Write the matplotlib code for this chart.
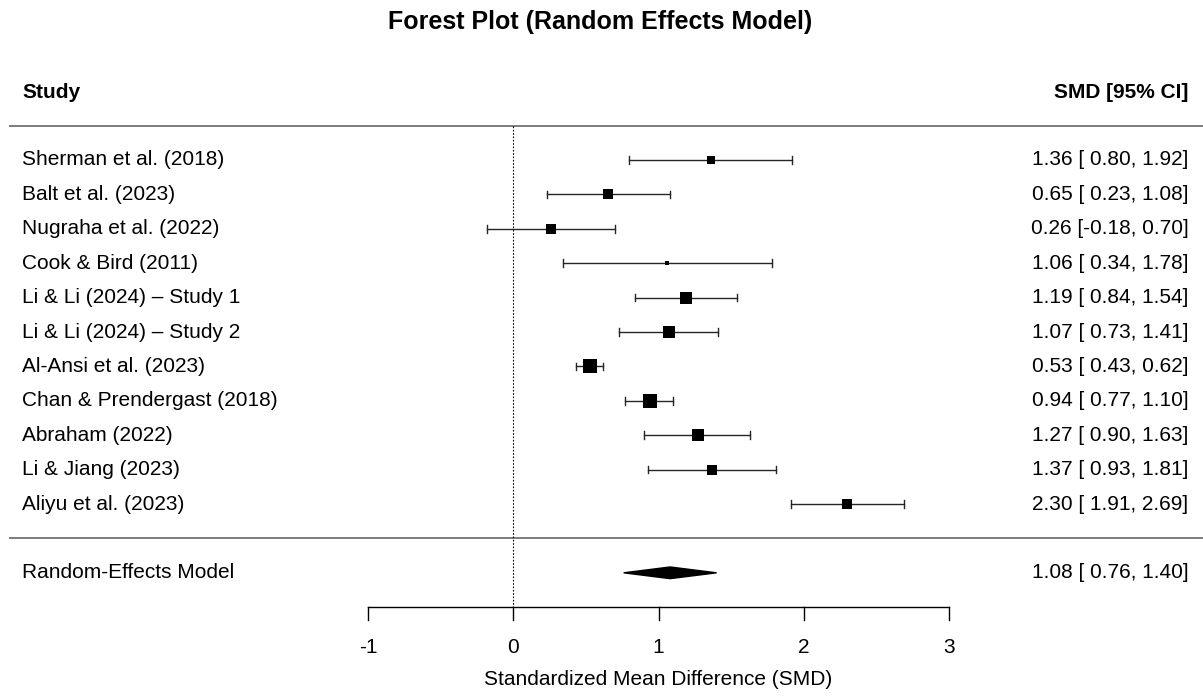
import numpy as np
import matplotlib.pyplot as plt
from matplotlib.patches import Polygon

plt.rcParams['font.family'] = ['Liberation Sans', 'DejaVu Sans']

# study data
studies = ["Sherman et al. (2018)", "Balt et al. (2023)", "Nugraha et al. (2022)",
           "Cook & Bird (2011)", "Li & Li (2024) \u2013 Study 1", "Li & Li (2024) \u2013 Study 2",
           "Al-Ansi et al. (2023)", "Chan & Prendergast (2018)", "Abraham (2022)",
           "Li & Jiang (2023)", "Aliyu et al. (2023)"]
smd = [1.36, 0.65, 0.26, 1.06, 1.19, 1.07, 0.53, 0.94, 1.27, 1.37, 2.30]
ci_low = [0.80, 0.23, -0.18, 0.34, 0.84, 0.73, 0.43, 0.77, 0.90, 0.93, 1.91]
ci_high = [1.92, 1.08, 0.70, 1.78, 1.54, 1.41, 0.62, 1.10, 1.63, 1.81, 2.69]

# pooled random-effects estimate
re_est = 1.08
re_low = 0.76
re_high = 1.40
tau2 = 0.25

xticks = [-1, 0, 1, 2, 3]


def fmt_ci(est, lo, hi):
    return "%.2f [%s, %.2f]" % (est, ("%.2f" % lo).rjust(5), hi)


# box sizes like metafor: scaled random-effects weights
vi = ((np.array(ci_high) - np.array(ci_low)) / 3.92) ** 2
w = 1 / (vi + tau2)
psize = (w - w.min()) / (w.max() - w.min()) * 1.0 + 0.5

fig = plt.figure(figsize=(12.03, 6.97), dpi=100)
ax = fig.add_axes([0, 0, 1, 1])
ax.set_xlim(-3.5336, 4.7487)
ax.set_ylim(15.61, -4.651)
ax.axis("off")

rows = np.arange(len(studies))
re_row = len(studies) + 1
axis_row = len(studies) + 2
x_left = -3.38
x_right = 4.648
fs = 15

# header lines
ax.plot([-3.47, 4.75], [-1, -1], color="0.4", lw=1.2, solid_capstyle="butt")
ax.plot([-3.47, 4.75], [len(studies), len(studies)], color="0.4", lw=1.2, solid_capstyle="butt")

# reference line at 0
ax.plot([0, 0], [-1, axis_row], color="black", lw=0.8, ls=(0, (1.5, 1.5)))

for i, name in enumerate(studies):
    y = rows[i]
    ax.plot([ci_low[i], ci_high[i]], [y, y], color="0.15", lw=1.0)
    for xe in (ci_low[i], ci_high[i]):
        ax.plot([xe, xe], [y - 0.11, y + 0.11], color="0.15", lw=1.0)
    ax.plot(smd[i], y, marker="s", color="black", ms=psize[i] * 9.5 / 1.389, mew=0)
    ax.text(x_left, y, name, ha="left", va="center", fontsize=fs)
    ax.text(x_right, y, fmt_ci(smd[i], ci_low[i], ci_high[i]), ha="right", va="center", fontsize=fs)

# summary diamond
dia = Polygon([[re_low, re_row], [re_est, re_row - 0.17], [re_high, re_row], [re_est, re_row + 0.17]],
              closed=True, color="black")
ax.add_patch(dia)
ax.text(x_left, re_row, "Random-Effects Model", ha="left", va="center", fontsize=fs)
ax.text(x_right, re_row, fmt_ci(re_est, re_low, re_high), ha="right", va="center", fontsize=fs)

# x axis
ax.plot([xticks[0], xticks[-1]], [axis_row, axis_row], color="black", lw=1.0)
for t in xticks:
    ax.plot([t, t], [axis_row, axis_row + 0.37], color="black", lw=1.0)
    ax.text(t, axis_row + 1.17, str(t), ha="center", va="center", fontsize=fs)
ax.text(1, axis_row + 2.1, "Standardized Mean Difference (SMD)", ha="center", va="center", fontsize=fs)

# headers and title
ax.text(x_left, -1.95, "Study", ha="left", va="center", fontsize=fs, fontweight="bold")
ax.text(x_right, -1.95, "SMD [95% CI]", ha="right", va="center", fontsize=fs, fontweight="bold")
ax.text(0.6, -4.0, "Forest Plot (Random Effects Model)", ha="center", va="center",
        fontsize=18, fontweight="bold")

fig.savefig("out.png", dpi=100, facecolor="white")
